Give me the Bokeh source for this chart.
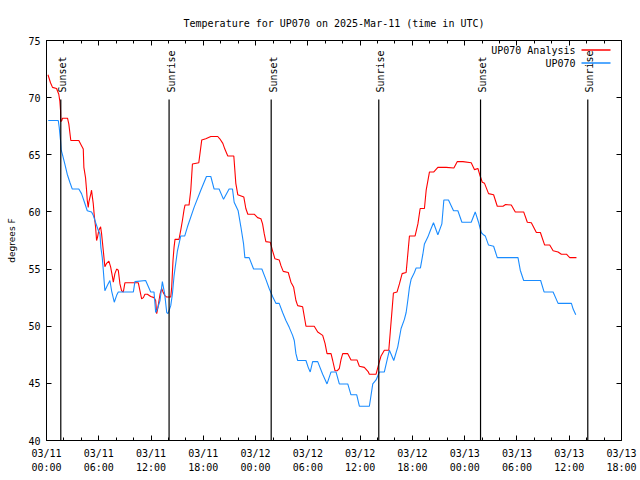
import math
from bokeh.plotting import figure
from bokeh.models import LinearAxis, FixedTicker, Range1d, Label, Arrow
from bokeh.embed import file_html
from bokeh.resources import INLINE
from bokeh.core.properties import value

TITLE = "Temperature for UP070 on 2025-Mar-11 (time in UTC)"
Y_LABEL = "degrees F"
SERIES_NAMES = ["UP070 Analysis", "UP070"]

# hours since 2025-03-11 00:00 UTC
analysis_hours = [0.17, 0.46, 0.69, 1.15, 1.41, 1.53, 1.61, 1.64, 1.76, 1.84, 2.41, 2.56, 2.79, 3.71,
                  4.02, 4.22, 4.29, 4.48, 4.60, 4.68, 4.79, 4.86, 5.09, 5.17, 5.25, 5.37, 5.48, 5.63,
                  5.75, 5.86, 6.01, 6.21, 6.32, 6.52, 6.70, 6.90, 7.16, 7.36, 7.55, 7.67, 7.85, 8.05,
                  8.24, 8.43, 8.62, 8.82, 9.00, 10.54, 10.73, 10.92, 11.12, 11.30, 11.58, 11.96, 12.34,
                  12.53, 12.65, 12.80, 13.03, 13.22, 13.37, 13.57, 13.80, 14.26, 14.37, 14.52, 14.64,
                  14.75, 15.21, 15.41, 15.60, 15.79, 15.90, 16.36, 16.56, 16.75, 17.48, 17.82, 18.28,
                  18.86, 19.66, 19.89, 20.24, 20.47, 20.81, 21.50, 21.73, 21.96, 22.65, 22.88, 23.11,
                  23.84, 24.23, 24.61, 24.80, 24.99, 25.18, 25.68, 25.95, 26.22, 26.71, 26.91, 27.17,
                  27.75, 28.06, 28.37, 28.63, 28.83, 29.40, 29.67, 29.78, 30.73, 31.13, 31.70, 31.97,
                  32.20, 32.66, 32.85, 33.12, 33.35, 33.61, 33.81, 34.00, 34.58, 34.95, 35.64, 35.91,
                  36.48, 36.94, 37.06, 37.83, 38.14, 38.40, 38.78, 39.29, 39.47, 39.63, 39.82, 40.24,
                  40.51, 40.82, 41.28, 41.47, 41.66, 42.31, 42.63, 42.89, 43.38, 43.58, 43.96, 44.46,
                  44.92, 45.88, 46.76, 47.14, 47.80, 48.75, 49.13, 49.52, 49.71, 50.02, 50.28, 50.74,
                  51.32, 51.74, 52.40, 52.70, 53.35, 53.81, 54.77, 55.19, 55.65, 56.23, 56.69, 57.18,
                  57.76, 58.15, 58.72, 59.10, 59.68, 60.06, 60.83]
analysis_temp = [72.0, 71.3, 70.9, 70.8, 70.3, 69.7, 68.9, 67.9, 68.0, 68.2, 68.2, 67.7, 66.25, 66.25,
                 65.8, 65.5, 63.9, 63.0, 61.9, 61.0, 60.4, 60.85, 61.6, 61.9, 61.4, 60.7, 59.7, 58.7,
                 57.5, 57.8, 58.4, 58.7, 58.1, 56.6, 55.2, 55.5, 55.7, 55.2, 54.4, 53.85, 54.6, 55.0,
                 54.9, 53.7, 53.1, 53.0, 53.8, 53.8, 53.1, 52.4, 52.5, 52.8, 52.8, 52.6, 52.5,
                 52.25, 51.1, 51.7, 52.8, 53.3, 53.0, 52.7, 52.55, 52.55, 53.4, 55.75, 56.9,
                 57.6, 57.6, 58.4, 59.25, 60.2, 60.6, 60.6, 61.9, 64.2, 64.3, 66.3, 66.4,
                 66.6, 66.6, 66.4, 66.0, 65.5, 64.9, 64.9, 62.5, 61.5, 61.3, 60.3, 59.8,
                 59.8, 59.5, 59.4, 58.95, 58.1, 57.4, 57.35, 56.6, 55.9, 55.8, 55.3, 54.8,
                 54.7, 53.85, 53.4, 52.25, 51.8, 51.7, 50.5, 50.0, 50.0, 49.5, 49.2, 48.5,
                 47.6, 47.6, 47.0, 46.1, 46.1, 46.3, 47.1, 47.6, 47.6, 47.05, 47.05, 46.5,
                 46.4, 46.0, 45.8, 45.8, 46.7, 47.4, 47.9, 47.9, 49.6, 51.1, 52.9, 53.0,
                 53.7, 54.6, 54.7, 56.3, 57.9, 57.9, 58.95, 60.3, 60.3, 61.9, 63.5, 63.5,
                 63.9, 63.9, 63.85, 64.4, 64.4, 64.3, 63.7, 63.8, 63.3, 62.6, 62.5, 61.6,
                 61.5, 60.5, 60.5, 60.65, 60.6, 60.0, 60.0, 59.1, 59.05, 58.2, 58.2, 57.1,
                 57.1, 56.6, 56.5, 56.3, 56.3, 56.0, 56.0]

obs_hours = [0.20, 1.35, 1.46, 1.61, 1.69, 1.84, 2.10, 2.38, 2.68, 2.96, 3.71, 4.02, 4.29, 4.68,
             5.17, 5.37, 5.67, 5.94, 6.13, 6.24, 6.40, 6.52, 6.70, 7.01, 7.28, 7.47, 7.78, 8.05,
             8.24, 9.97, 10.15, 11.38, 11.96, 12.34, 12.53, 12.73, 13.03, 13.30, 13.57, 13.80,
             13.95, 14.26, 14.45, 14.64, 15.03, 15.41, 15.87, 16.18, 16.94, 17.71, 18.36, 18.86,
             19.24, 19.81, 20.32, 20.96, 21.35, 21.54, 22.00, 22.31, 22.62, 22.77, 23.26, 23.77,
             24.72, 25.18, 25.56, 25.95, 26.33, 26.71, 27.10, 27.48, 27.86, 28.25, 28.44, 28.63,
             28.83, 29.78, 30.04, 30.27, 30.55, 31.13, 31.70, 32.20, 32.66, 33.23, 33.61, 34.58,
             34.95, 35.61, 35.91, 37.06, 37.45, 37.83, 38.21, 38.78, 39.17, 39.36, 39.86, 40.32,
             40.70, 41.08, 41.28, 41.47, 41.66, 41.85, 42.23, 42.43, 42.92, 43.20, 43.38, 43.77,
             44.07, 44.42, 44.92, 45.38, 45.61, 46.14, 46.72, 47.22, 47.68, 48.75, 49.21, 49.59,
             49.90, 50.16, 50.36, 50.74, 51.32, 51.74, 54.12, 54.38, 54.77, 56.72, 57.11, 58.15,
             58.72, 60.25, 60.45, 60.75]
obs_temp = [68.0, 68.0, 67.4, 66.25, 65.4, 65.0, 64.2, 63.3, 62.6, 62.0, 62.0, 61.6, 61.0, 60.1,
            60.0, 59.7, 59.0, 58.4, 58.1, 56.9, 56.0, 54.9, 53.1, 53.6, 54.0, 53.1, 52.1, 52.7,
            53.0, 53.0, 53.9, 54.0, 53.0, 53.0, 51.2, 51.5, 52.25, 53.9, 52.8, 51.2,
            51.1, 51.8, 52.8, 54.4, 56.6, 57.9, 57.9, 58.7, 60.4, 61.9, 63.1, 63.1,
            62.0, 62.0, 61.1, 62.0, 62.0, 60.85, 60.1, 58.7, 57.2, 56.0, 56.0, 55.0,
            55.0, 54.1, 53.3, 52.6, 52.0, 52.0, 51.2, 50.5, 49.9, 49.2, 48.75, 47.6,
            47.0, 47.0, 46.4, 46.0, 46.9, 46.9, 45.8, 44.95, 46.0, 46.0, 44.95, 44.95,
            44.0, 44.0, 43.0, 43.0, 44.95, 45.3, 46.0, 46.0, 47.3, 47.9, 47.0, 48.2,
            49.8, 50.6, 51.2, 52.25, 53.4, 54.1, 54.7, 55.1, 55.1, 56.3, 57.2, 57.8,
            58.4, 59.05, 58.0, 58.95, 61.05, 61.05, 60.1, 60.1, 59.1, 59.1, 60.0, 59.1,
            58.2, 58.0, 57.9, 57.1, 57.0, 56.0, 56.0, 54.9, 54.0, 54.0, 53.0, 53.0,
            52.0, 52.0, 51.5, 51.0]

sun_event_hours = [1.64, 14.07, 25.79, 38.14, 49.82, 62.13]
sun_event_labels = ["Sunset", "Sunrise", "Sunset", "Sunrise", "Sunset", "Sunrise"]

x_tick_hours = [0, 6, 12, 18, 24, 30, 36, 42, 48, 54, 60, 66]
x_tick_labels = ["03/11\n00:00", "03/11\n06:00", "03/11\n12:00", "03/11\n18:00",
                 "03/12\n00:00", "03/12\n06:00", "03/12\n12:00", "03/12\n18:00",
                 "03/13\n00:00", "03/13\n06:00", "03/13\n12:00", "03/13\n18:00"]
x_minor_hours = list(range(0, 67, 2))
y_ticks = [40, 45, 50, 55, 60, 65, 70, 75]

RED = "#ff0000"
BLUE = "#1a8cff"
MONO = "DejaVu Sans Mono"

X0, X1 = 0, 66
Y0, Y1 = 40, 75

p = figure(width=640, height=480, output_backend="svg", toolbar_location=None,
           x_range=Range1d(X0, X1), y_range=Range1d(Y0, Y1),
           min_border_left=46, min_border_right=19, min_border_top=40, min_border_bottom=40,
           x_axis_type=None, y_axis_type=None)
p.background_fill_color = "white"
p.border_fill_color = "white"
p.outline_line_color = "black"
p.outline_line_width = 1
p.xgrid.visible = False
p.ygrid.visible = False

p.title.text = TITLE
p.title.align = "center"
p.title.text_font = MONO
p.title.text_font_size = "10px"
p.title.text_font_style = "normal"
p.title.text_color = "black"
p.title.standoff = 24


def style_axis(ax, show_labels):
    ax.axis_line_color = None
    ax.major_tick_in = 5
    ax.major_tick_out = 0
    ax.minor_tick_in = 3
    ax.minor_tick_out = 0
    ax.major_tick_line_color = "black"
    ax.minor_tick_line_color = "black"
    ax.major_label_text_font = MONO
    ax.major_label_text_font_size = "10px" if show_labels else "0px"
    ax.major_label_text_color = "black"


xt = FixedTicker(ticks=x_tick_hours, minor_ticks=x_minor_hours)
yt = FixedTicker(ticks=y_ticks, minor_ticks=[])
overrides = {h: lab for h, lab in zip(x_tick_hours, x_tick_labels)}

xb = LinearAxis(ticker=xt, major_label_overrides=overrides)
style_axis(xb, True)
xb.major_label_standoff = 7
xb.major_label_text_line_height = 1.3
p.add_layout(xb, "below")

xa = LinearAxis(ticker=xt, major_label_overrides={h: "" for h in x_tick_hours})
style_axis(xa, False)
p.add_layout(xa, "above")

yl = LinearAxis(ticker=yt, axis_label=Y_LABEL)
style_axis(yl, True)
yl.major_label_standoff = 6
yl.axis_label_text_font = "DejaVu Sans"
yl.axis_label_text_font_size = "9px"
yl.axis_label_text_font_style = "normal"
yl.axis_label_text_color = "black"
yl.axis_label_standoff = 8
p.add_layout(yl, "left")

yr = LinearAxis(ticker=yt, major_label_overrides={v: "" for v in y_ticks})
style_axis(yr, False)
p.add_layout(yr, "right")

# data lines
p.line(analysis_hours, analysis_temp, line_color=RED, line_width=1.1)
p.line(obs_hours, obs_temp, line_color=BLUE, line_width=1.1)

# sunrise / sunset markers
px_per_deg = 400 / (Y1 - Y0)
line_top = Y1 - 59 / px_per_deg
p.segment(x0=sun_event_hours, y0=[Y0] * len(sun_event_hours),
          x1=sun_event_hours, y1=[line_top] * len(sun_event_hours),
          line_color="black", line_width=1.2)
p.text(x=sun_event_hours, y=[Y1] * len(sun_event_hours), text=sun_event_labels,
       angle=math.pi / 2, text_align="left", text_baseline="middle",
       x_offset=2, y_offset=52, text_font=value(MONO), text_font_size="10px",
       text_color="black")

# legend (gnuplot style: label then sample line)
legend_rows = [(SERIES_NAMES[0], RED), (SERIES_NAMES[1], BLUE)]
for i, (name, col) in enumerate(legend_rows):
    ys = 390.5 - 13 * i
    p.add_layout(Label(x=529, y=ys, x_units="screen", y_units="screen", text=name,
                       text_align="right", text_baseline="middle",
                       text_font=MONO, text_font_size="10px", text_color="black"))
    p.add_layout(Arrow(end=None, x_start=535, y_start=ys, x_end=564, y_end=ys,
                       start_units="screen", end_units="screen",
                       line_color=col, line_width=1.3))

open("out.html", "w").write(file_html(p, INLINE))
